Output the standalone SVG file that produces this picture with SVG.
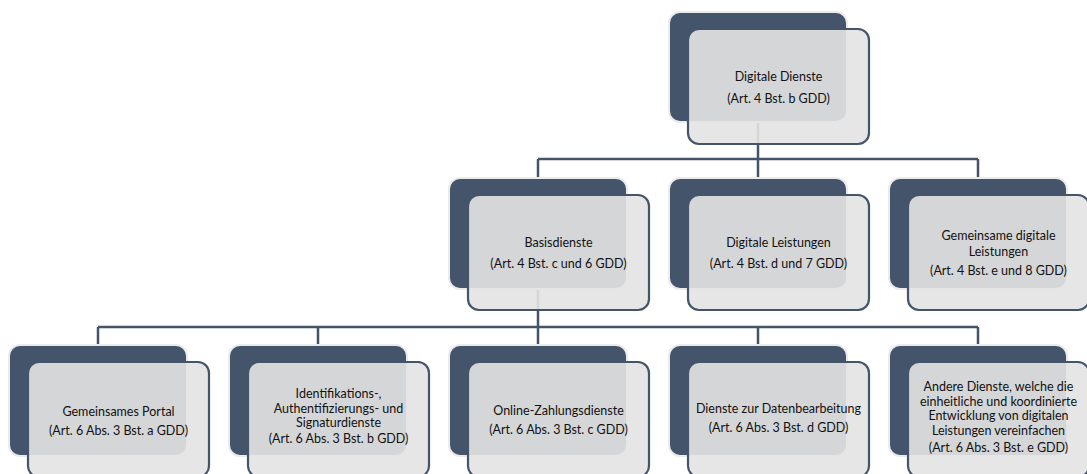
<svg xmlns="http://www.w3.org/2000/svg" width="1087" height="474" viewBox="0 0 1087 474">
<style>
.bg{fill:#44546a;stroke:#ebebeb;stroke-width:2}
.fg{fill:#e4e4e4;fill-opacity:0.91;stroke:#44546a;stroke-width:2.2}
.con{fill:none;stroke:#44546a;stroke-width:2.5}
text{font-family:Lato,"Liberation Sans",sans-serif;font-size:12.5px;fill:#111111;text-anchor:middle}
</style>
<rect width="1087" height="474" fill="#ffffff"/>
<g id="connectors">
<path class="con" d="M758,122V159M538,159H978M538,159V178M758,159V178M978,159V178"/>
<path class="con" d="M538,289V327M98,327H978M98,327V345M318,327V345M538,327V345M758,327V345M978,327V345"/>
</g>
<g id="node-digitale-dienste">
<rect class="bg" x="669" y="12" width="178" height="110" rx="11"/>
<rect class="fg" x="688" y="29" width="181" height="115" rx="11"/>
<text x="778.5" y="81">Digitale Dienste</text>
<text x="778.5" y="103">(Art. 4 Bst. b GDD)</text>
</g>
<g id="node-basisdienste">
<rect class="bg" x="449" y="178" width="178" height="111" rx="11"/>
<rect class="fg" x="468" y="195" width="181" height="115" rx="11"/>
<text x="558.5" y="247">Basisdienste</text>
<text x="558.5" y="267.5">(Art. 4 Bst. c und 6 GDD)</text>
</g>
<g id="node-digitale-leistungen">
<rect class="bg" x="669" y="178" width="178" height="111" rx="11"/>
<rect class="fg" x="688" y="195" width="181" height="115" rx="11"/>
<text x="778.5" y="247">Digitale Leistungen</text>
<text x="778.5" y="267.5">(Art. 4 Bst. d und 7 GDD)</text>
</g>
<g id="node-gemeinsame-digitale-leistungen">
<rect class="bg" x="889" y="178" width="178" height="111" rx="11"/>
<rect class="fg" x="908" y="195" width="181" height="115" rx="11"/>
<text x="998.5" y="239.5">Gemeinsame digitale</text>
<text x="998.5" y="255.5">Leistungen</text>
<text x="998.5" y="274.5">(Art. 4 Bst. e und 8 GDD)</text>
</g>
<g id="node-portal">
<rect class="bg" x="9" y="345" width="178" height="111" rx="11"/>
<rect class="fg" x="28" y="362" width="181" height="115" rx="11"/>
<text x="118.5" y="415.5">Gemeinsames Portal</text>
<text x="118.5" y="434.5">(Art. 6 Abs. 3 Bst. a GDD)</text>
</g>
<g id="node-identifikation">
<rect class="bg" x="229" y="345" width="178" height="111" rx="11"/>
<rect class="fg" x="248" y="362" width="181" height="115" rx="11"/>
<text x="338.5" y="397.5">Identifikations-,</text>
<text x="338.5" y="412.5">Authentifizierungs- und</text>
<text x="338.5" y="427">Signaturdienste</text>
<text x="338.5" y="443">(Art. 6 Abs. 3 Bst. b GDD)</text>
</g>
<g id="node-zahlungsdienste">
<rect class="bg" x="449" y="345" width="178" height="111" rx="11"/>
<rect class="fg" x="468" y="362" width="181" height="115" rx="11"/>
<text x="558.5" y="414.5">Online-Zahlungsdienste</text>
<text x="558.5" y="433.5">(Art. 6 Abs. 3 Bst. c GDD)</text>
</g>
<g id="node-datenbearbeitung">
<rect class="bg" x="669" y="345" width="178" height="111" rx="11"/>
<rect class="fg" x="688" y="362" width="181" height="115" rx="11"/>
<text x="778.5" y="412.5">Dienste zur Datenbearbeitung</text>
<text x="778.5" y="432">(Art. 6 Abs. 3 Bst. d GDD)</text>
</g>
<g id="node-andere-dienste">
<rect class="bg" x="889" y="345" width="178" height="111" rx="11"/>
<rect class="fg" x="908" y="362" width="181" height="115" rx="11"/>
<text x="998.5" y="391">Andere Dienste, welche die</text>
<text x="998.5" y="405.5">einheitliche und koordinierte</text>
<text x="998.5" y="420">Entwicklung von digitalen</text>
<text x="998.5" y="434.5">Leistungen vereinfachen</text>
<text x="998.5" y="452">(Art. 6 Abs. 3 Bst. e GDD)</text>
</g>
</svg>
